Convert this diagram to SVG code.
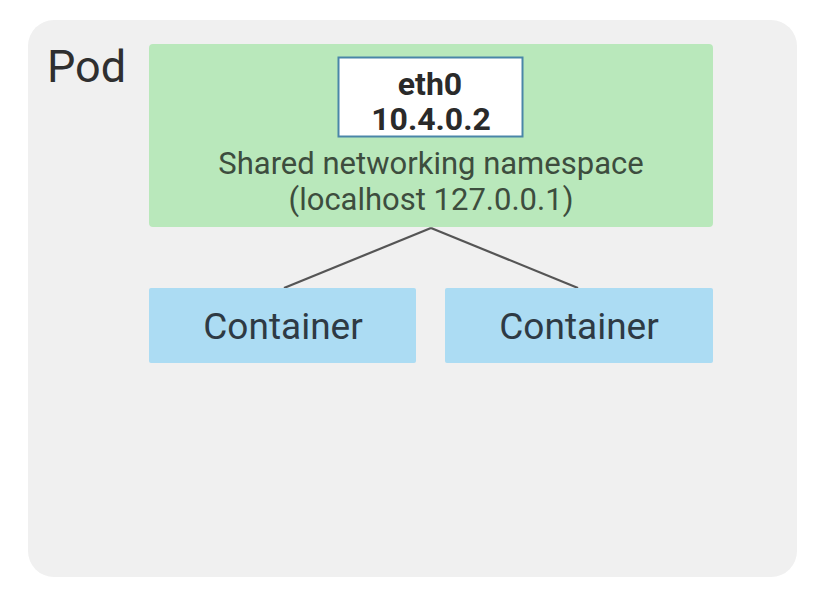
<svg xmlns="http://www.w3.org/2000/svg" width="818" height="608" viewBox="0 0 818 608">
<style>
text{font-family:Roboto,"Liberation Sans",sans-serif;text-anchor:middle}
.c{fill:#acdcf3}
.ct{font-size:37px;fill:#2e3a44}
.ns{font-size:31px;fill:#3d4d3e}
.e{font-weight:bold;fill:#2a2a2a}
</style>
<rect width="818" height="608" fill="#ffffff"/>
<g id="pod">
<rect x="28" y="20" width="769" height="557" rx="26" fill="#f0f0f0"/>
<text x="47" y="82" style="font-size:45px;fill:#2f2f2f;text-anchor:start">Pod</text>
</g>
<g id="namespace">
<rect x="149" y="44" width="564" height="183" rx="4" fill="#b9e8bb"/>
<text class="ns" x="431" y="174">Shared networking namespace</text>
<text class="ns" x="431" y="210">(localhost 127.0.0.1)</text>
</g>
<g id="eth0">
<rect x="338.5" y="57.5" width="184" height="79" fill="#ffffff" stroke="#4a86a8" stroke-width="2"/>
<text class="e" x="430" y="95" style="font-size:32px">eth0</text>
<text class="e" x="431" y="130" style="font-size:32px">10.4.0.2</text>
</g>
<g id="connectors" stroke="#555555" stroke-width="2.2" fill="none">
<line x1="431" y1="228" x2="284" y2="288"/>
<line x1="431" y1="228" x2="578" y2="288"/>
</g>
<g id="container1">
<rect class="c" x="149" y="288" width="267" height="75" rx="2"/>
<text class="ct" x="283" y="339">Container</text>
</g>
<g id="container2">
<rect class="c" x="445" y="288" width="268" height="75" rx="2"/>
<text class="ct" x="579" y="339">Container</text>
</g>
</svg>
